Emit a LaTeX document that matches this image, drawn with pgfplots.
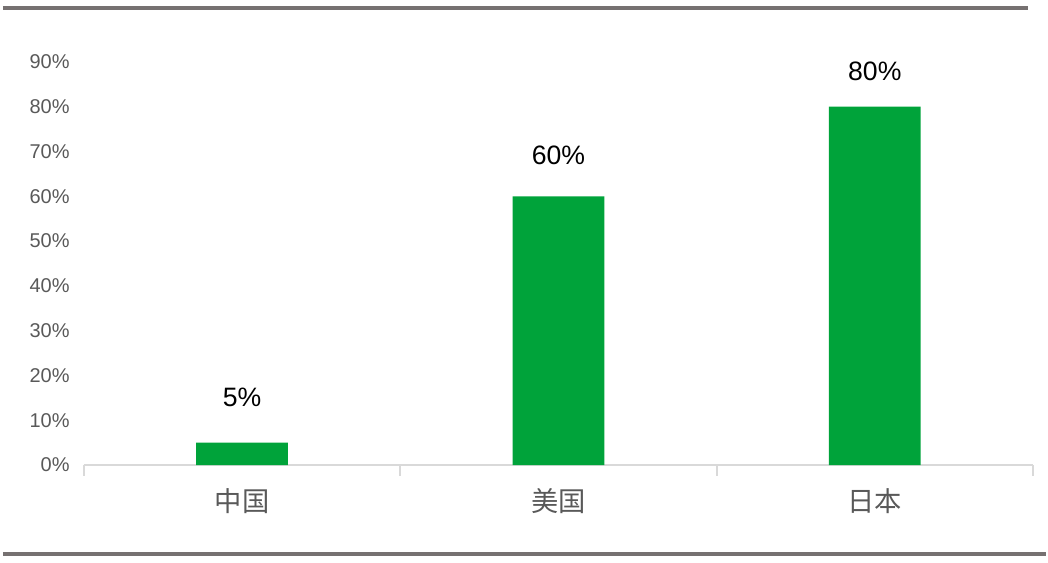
\documentclass[border=0pt]{standalone}
\usepackage{pgfplots}
\pgfplotsset{compat=1.18}
\usepackage{fontspec}
\setmainfont{Liberation Sans}
\newfontfamily\cjk{Noto Sans CJK SC}

\definecolor{bargreen}{HTML}{00A33A}
\definecolor{axisgray}{HTML}{D9D9D9}
\definecolor{textgray}{HTML}{595959}
\definecolor{rulegray}{HTML}{767171}

\begin{document}
\begin{tikzpicture}[x=0.75pt, y=0.75pt]
% page frame: 1048 x 564 px
\path (0,0) rectangle (1048,564);
\draw[rulegray, line width=3pt] (3,556) -- (1030,556);
\draw[rulegray, line width=3pt] (3,9) -- (1048,9);

\begin{axis}[
    at={(63pt,73.5pt)},
    anchor=south west,
    scale only axis,
    width=713.25pt,
    height=303pt,
    xmin=-0.5, xmax=2.5,
    ymin=0, ymax=90,
    xtick={0,1,2},
    xticklabels={中国, 美国, 日本},
    minor xtick={-0.5,0.5,1.5,2.5},
    ytick={0,10,...,90},
    yticklabel={\pgfmathparse{int(\tick)}\pgfmathresult\%},
    axis lines*=left,
    y axis line style={draw=none},
    x axis line style={draw=axisgray, line width=1.5pt},
    tick align=outside,
    major tick length=0pt,
    minor tick length=8pt,
    xtick style={draw=axisgray, line width=1.5pt},
    ytick style={draw=none},
    xticklabel style={font=\cjk\fontsize{20.5}{24}\selectfont, text=textgray, anchor=center, yshift=-27pt},
    yticklabel style={font=\fontsize{15}{18}\selectfont, text=textgray, anchor=east, inner sep=0pt, xshift=-10.5pt},
    clip=false,
]
\addplot[ybar, bar width=69pt, bar shift=0pt, fill=bargreen, draw=none]
    coordinates {(0,5) (1,60) (2,80)};
\addplot[only marks, mark=none, point meta=explicit symbolic,
    nodes near coords,
    nodes near coords style={anchor=center, font=\fontsize{20}{24}\selectfont, text=black}]
    coordinates {(0,15.15)[5\%] (1,69.2)[60\%] (2,87.9)[80\%]};
\end{axis}
\end{tikzpicture}
\end{document}
